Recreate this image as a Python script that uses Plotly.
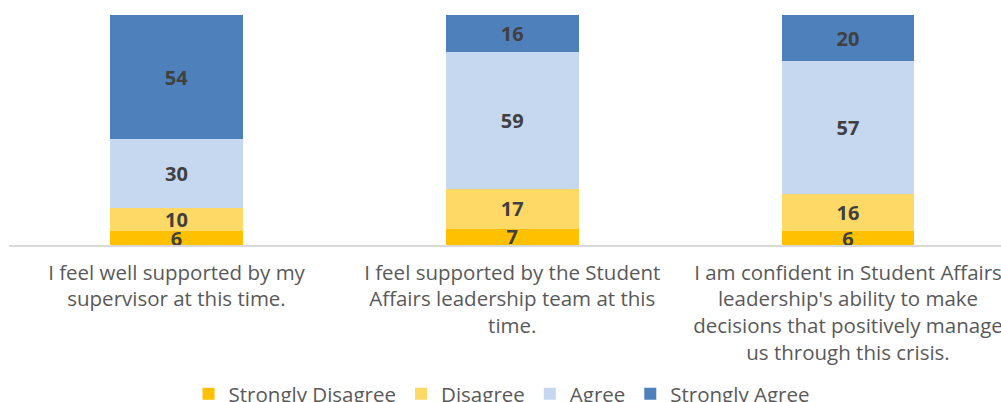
import plotly.graph_objects as go

categories = [
    "I feel well supported by my<br>supervisor at this time.",
    "I feel supported by the Student<br>Affairs leadership team at this<br>time.",
    "I am confident in Student Affairs<br>leadership's ability to make<br>decisions that positively manage<br>us through this crisis.",
]
series_names = ["Strongly Disagree", "Disagree", "Agree", "Strongly Agree"]
strongly_disagree = [6, 7, 6]
disagree = [10, 17, 16]
agree = [30, 59, 57]
strongly_agree = [54, 16, 20]
values = [strongly_disagree, disagree, agree, strongly_agree]
colors = ["#FFC000", "#FFD966", "#C5D8F0", "#4E80BC"]

FONT = "Open Sans"
fig = go.Figure()
for name, vals, col in zip(series_names, values, colors):
    fig.add_trace(go.Bar(
        x=list(range(len(categories))),
        y=vals,
        name=name,
        marker=dict(color=col, line=dict(width=0)),
        width=0.396,
        text=[str(v) for v in vals],
        texttemplate="%{text}",
        textposition="inside",
        insidetextanchor="middle",
        textangle=0,
        constraintext="none",
        textfont=dict(family=FONT, size=20, color="#404040", weight="bold"),
        hoverinfo="skip",
    ))

fig.update_layout(
    barmode="stack",
    barnorm="percent",
    width=1001,
    height=402,
    margin=dict(l=9, r=0, t=15, b=157, autoexpand=False),
    paper_bgcolor="white",
    plot_bgcolor="white",
    uniformtext=dict(mode=False),
    font=dict(family=FONT, size=20.5, color="#595959"),
    xaxis=dict(
        range=[-0.4989, 2.4557],
        tickmode="array",
        tickvals=list(range(len(categories))),
        ticktext=categories,
        ticklabeloverflow="allow",
        showline=True,
        linecolor="#D9D9D9",
        linewidth=2,
        ticks="outside",
        ticklen=8,
        tickcolor="rgba(0,0,0,0)",
        showgrid=False,
        zeroline=False,
        automargin=False,
        tickangle=0,
        tickfont=dict(family=FONT, size=20.5, color="#595959"),
    ),
    yaxis=dict(
        range=[0, 100],
        visible=False,
        showgrid=False,
        zeroline=False,
        fixedrange=True,
    ),
    legend=dict(
        orientation="h",
        x=0.181,
        xanchor="left",
        y=-0.56,
        yanchor="top",
        font=dict(family=FONT, size=20.5, color="#595959"),
        traceorder="normal",
        itemwidth=30,
        bgcolor="rgba(0,0,0,0)",
    ),
    showlegend=True,
)

fig.write_html("out.html")
